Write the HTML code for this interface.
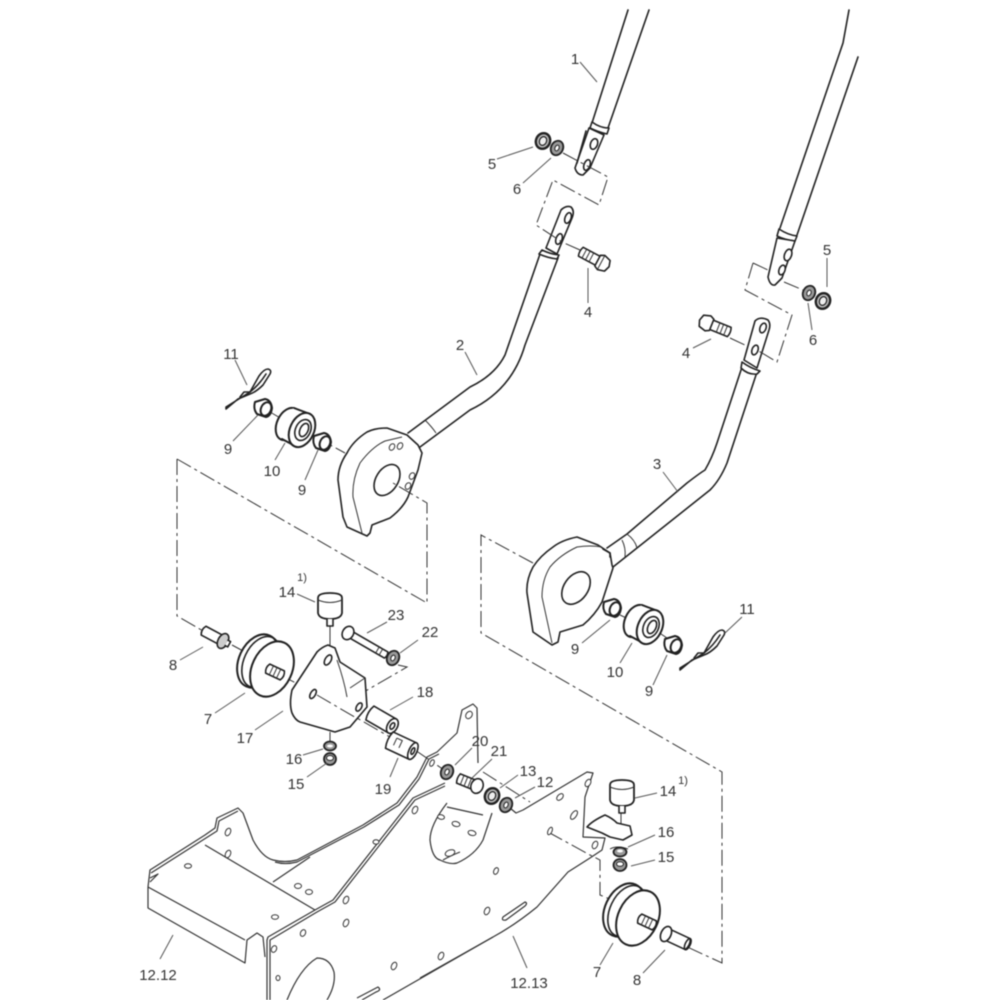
<!DOCTYPE html>
<html><head><meta charset="utf-8"><style>
html,body{margin:0;padding:0;background:#fff;width:1000px;height:1000px;overflow:hidden}
svg{display:block;filter:blur(.45px)}
text{font-family:"Liberation Sans",sans-serif;font-size:15px;fill:#333;text-anchor:middle}
.o{fill:#fff;stroke:#222;stroke-width:1.6;stroke-linejoin:round;stroke-linecap:round}
.n{fill:none;stroke:#222;stroke-width:1.6;stroke-linejoin:round;stroke-linecap:round}
.t{fill:none;stroke:#333;stroke-width:1}
.f{fill:none;stroke:#333;stroke-width:1.2;stroke-linejoin:round}
.h{fill:#fff;stroke:#333;stroke-width:1}
.l{fill:none;stroke:#555;stroke-width:1}
.d{fill:none;stroke:#333;stroke-width:1;stroke-dasharray:16 4 3 4}
.k{fill:#999;stroke:#222;stroke-width:1.8}
</style></head><body>
<svg width="1000" height="1000" viewBox="0 0 1000 1000">
<defs>
<g id="washer"><ellipse rx="6" ry="7.5" transform="rotate(25)" class="k"/><ellipse rx="2" ry="3" transform="rotate(25)" fill="#fff" stroke="#222"/></g>
<g id="nut"><ellipse rx="7" ry="8" transform="rotate(25)" fill="#bbb" stroke="#222" stroke-width="2.4"/><ellipse rx="3.5" ry="4.5" transform="rotate(25)" fill="#eee" stroke="#222" stroke-width="1.2"/></g>
<g id="bush"><path class="o" style="stroke-width:2" d="M-8,-6 L2,-9 Q8,-8 9,0 Q8,8 3,9 L-6,6 Q-10,1 -8,-6Z"/><ellipse cx="3" cy="1" rx="5" ry="7" transform="rotate(25 3 1)" class="o" style="stroke-width:2"/></g>
<g id="roller">
<ellipse cx="-12" cy="-6" rx="11" ry="17" transform="rotate(25 -12 -6)" class="o" style="stroke-width:2"/>
<path d="M-7,-22 L8,-15 L-4,17 L-18,10Z" fill="#fff"/>
<path class="n" style="stroke-width:2" d="M-6,-22 L10,-16 M-18,9 L-3,17"/>
<ellipse cx="2" cy="0" rx="12" ry="18" transform="rotate(25 2 0)" class="o" style="stroke-width:2"/>
<ellipse cx="3" cy="0" rx="7.5" ry="11" transform="rotate(25 3 0)" class="o"/>
<ellipse cx="4" cy="0" rx="4" ry="7" transform="rotate(25 4 0)" class="o"/>
</g>
<g id="pulley"><ellipse cx="-14" cy="-8" rx="19" ry="28" transform="rotate(25 -14 -8)" class="o" style="stroke-width:2"/><ellipse cx="-11" cy="-7" rx="17" ry="27" transform="rotate(25 -11 -7)" class="n"/><ellipse cx="0" cy="0" rx="20" ry="29" transform="rotate(25)" class="o" style="stroke-width:2"/></g>
<g id="cap"><path class="o" style="stroke-width:1.8" d="M-12,-8 Q-12,-13 0,-13 Q12,-13 12,-8 L12,7 Q11,13 0,13 Q-11,13 -12,7Z"/><path class="t" d="M-12,-6 Q0,-1 12,-6"/><path class="o" d="M-3,13 L-3,20 L3,20 L3,13"/></g>
<g id="clip"><path class="n" d="M0,0 L24,-15 L33,-31 Q38,-38 42,-38 Q46,-37 44,-33 L37,-22 Q30,-15 24,-13 L12,-8 L0,2Z"/><path class="n" d="M24,-15 Q33,-22 40,-33 M14,-10 L18,-15 L24,-15"/></g>
</defs>

<!-- long tubes -->
<path class="n" d="M628,10 L592,123 M649,10 L608,128"/>
<path class="o" d="M592,122 Q600,128 609,128 L607,134 Q598,132 590,128Z"/>
<path class="o" d="M589,128 L575,168 Q577,175 583,175 L590,168 L604,135 Z"/>
<path class="n" d="M586,131 L577,163"/>
<ellipse cx="594" cy="144" rx="3.5" ry="5.5" transform="rotate(20 594 144)" class="o"/>
<ellipse cx="587" cy="165" rx="3" ry="5.5" transform="rotate(20 587 165)" class="o"/>

<path class="n" d="M849,10 L843,43 L780,228 M858,57 L797,235"/>
<path class="o" d="M779,229 Q788,235 797,236 L795,241 Q785,240 777,236Z"/>
<path class="o" d="M777,238 L768,277 Q770,286 775,285 L782,278 L795,241Z"/>
<ellipse cx="788" cy="255" rx="3.5" ry="6" transform="rotate(20 788 255)" class="o"/>
<ellipse cx="782" cy="270" rx="3" ry="5" transform="rotate(20 782 270)" class="o"/>

<!-- tube 2 -->
<path class="n" d="M540,254 L505,355 Q495,375 470,387 L408,433 M420,447 L470,410 Q512,390 525,345 L558,258"/>
<path class="t" d="M425,420 Q432,427 436,433"/>
<path class="o" d="M546,248 L561,210 Q566,205 571,207 Q575,211 572,218 L557,254Z"/>
<ellipse cx="568" cy="218" rx="3" ry="5.5" transform="rotate(20 568 218)" class="o"/>
<ellipse cx="559" cy="239" rx="3" ry="5.5" transform="rotate(20 559 239)" class="o"/>
<path class="o" d="M542,250 Q550,254 559,255 L557,259 Q548,258 539,254Z"/>
<!-- cam 2 -->
<path class="o" d="M407,435 L387,428 Q375,428 367,432 Q353,441 347,453 Q338,466 338,480 L343,517 L347,527 L367,536 L370,533 L372,525 L390,518 Q403,508 408,497 L418,470 L422,453 L418,445Z"/>
<path class="t" d="M402,437 L385,441 Q372,447 360,463 Q352,480 353,497 L362,533"/>
<ellipse cx="387" cy="480" rx="11" ry="17" transform="rotate(32 387 480)" class="o"/>
<ellipse cx="392" cy="447" rx="2.5" ry="3.5" transform="rotate(30 392 447)" class="h"/>
<ellipse cx="400" cy="446" rx="2.5" ry="3.5" transform="rotate(30 400 446)" class="h"/>
<ellipse cx="412" cy="476" rx="2.5" ry="3.5" transform="rotate(30 412 476)" class="h"/>
<ellipse cx="408" cy="486" rx="2.5" ry="3.5" transform="rotate(30 408 486)" class="h"/>

<!-- tube 3 -->
<path class="n" d="M607,548 L627,534 L687,483 Q700,473 705,470 Q712,458 717,443 L742,367 M613,567 L637,548 L710,490 Q720,480 727,463 L757,372"/>
<path class="t" d="M622,540 Q626,548 625,557 M627,534 Q635,540 637,548"/>
<path class="o" d="M744,360 L755,321 Q760,316 768,320 Q771,324 769,330 L757,368Z"/>
<path class="o" d="M742,362 Q750,368 760,371 L757,374 Q748,375 741,368Z"/>
<ellipse cx="763" cy="328" rx="3" ry="5" transform="rotate(20 763 328)" class="o"/>
<ellipse cx="755" cy="350" rx="3" ry="5" transform="rotate(20 755 350)" class="o"/>
<!-- cam 3 -->
<path class="o" d="M610,553 L598,545 L577,537 Q562,540 553,547 Q540,556 533,567 Q526,580 527,593 L533,632 L552,645 L558,642 L560,632 L583,625 Q595,615 602,602 L613,568 L612,565Z"/>
<path class="t" d="M602,547 Q590,545 577,547 Q560,555 550,567 Q542,580 542,597 L552,643"/>
<path class="n" d="M603,549 L610,553 L610,557"/>
<ellipse cx="576" cy="588" rx="12" ry="18" transform="rotate(35 576 588)" class="o"/>

<!-- dash lines upper -->
<path class="d" d="M563,153 L608,177 L599,205 L553,180 L536,225 L562,242 L580,250"/>
<path class="d" d="M784,282 L803,290"/>
<path class="d" d="M753,263 L768,270 M753,263 L745,290 L792,315 L777,362 L757,350 M730,338 L745,345"/>
<path class="d" d="M177,459 L427,603 L427,503 L393,483"/>
<path class="d" d="M177,459 L177,616 L205,632"/>
<path class="d" d="M533,563 L481,535 L481,633 L722,772 L722,963 L683,945"/>
<path class="d" d="M270,412 L287,422 M312,435 L345,453"/>
<path class="d" d="M620,615 L635,622 M655,630 L670,640"/>
<path class="d" d="M232,645 L245,652 M280,675 L296,683"/>
<path class="d" d="M317,695 L390,737 M398,665 L407,667 L350,700"/>
<path class="d" d="M415,750 L447,772"/>
<path class="d" d="M483,772 L530,802"/>
<path class="d" d="M548,832 L590,855 L600,860 L600,895 L612,900"/>
<path class="t" d="M330,622 L330,645 M330,732 L330,742 M621,812 L621,832"/>

<!-- frame 12.12 / 12.13 -->
<path class="f" d="M148,887 L150,870 L205,835 L215,828 L217,818 L238,808 L243,813 L253,840 Q262,857 273,860 Q285,863 297,860 L363,825 L397,803 L417,777 L427,757 L437,752 L457,733 L462,710 L473,704 L477,708 L478,763"/>
<path class="f" d="M151,873 L206,838 L217,831 L219,821 L238,811 M275,862 Q285,865 297,862 L364,827 L399,805 L419,779 L429,759 L439,754"/>
<path class="f" d="M148,887 L148,908 L245,963 L247,940 L257,933 L263,937 L265,957 M267,1000 L267,940 L268,937 L315,910 L333,900 L413,798 L445,783 M270,1000 L270,940 L317,912 L335,902 L415,800 L445,786"/>
<path class="f" d="M148,887 L245,940 M205,845 L315,910 M273,882 L310,857 M150,878 L158,874 L150,882"/>
<path class="f" d="M420,978 L493,937 Q515,925 537,907 L568,872 L590,858 L602,850 L605,838 L583,837 L585,797 L593,773 L587,772 L523,810 L516,813 L510,808"/>
<path class="f" d="M383,1000 L493,937"/>
<path class="f" d="M447,803 Q430,825 430,840 Q432,858 440,860 Q450,865 457,863 Q475,855 483,840 L492,813 M447,807 L483,815 M443,860 Q450,856 460,852"/>
<path class="f" d="M287,1000 Q300,968 317,958 Q330,958 334,972 Q336,985 327,1000"/>
<path class="f" d="M357,998 L378,987 Q382,990 376,992 L362,1000"/>
<path class="f" d="M503,917 L525,902 Q528,903 525,906 L506,920 Q501,921 503,917Z"/>
<path class="o" d="M587,827 Q592,821 605,815 Q612,818 617,823 L630,826 L632,835 L623,840 L610,837 L602,833Z"/>
<g class="h">
<ellipse cx="228" cy="832" rx="2.5" ry="4" transform="rotate(25 228 832)"/><ellipse cx="228" cy="854" rx="2.5" ry="4" transform="rotate(25 228 854)"/><ellipse cx="188" cy="866" rx="3.5" ry="2.2"/><ellipse cx="298" cy="886" rx="3.5" ry="2.5"/><ellipse cx="309" cy="892" rx="3.5" ry="2.5"/><ellipse cx="275" cy="917" rx="3.5" ry="2.3"/><ellipse cx="346" cy="900" rx="2.5" ry="4" transform="rotate(25 346 900)"/><ellipse cx="346" cy="923" rx="2.5" ry="4" transform="rotate(25 346 923)"/><ellipse cx="303" cy="933" rx="2.5" ry="3.5" transform="rotate(25 303 933)"/><ellipse cx="274" cy="949" rx="2.5" ry="3.5" transform="rotate(25 274 949)"/><ellipse cx="278" cy="978" rx="2" ry="2.5"/><ellipse cx="394" cy="966" rx="2.5" ry="4" transform="rotate(25 394 966)"/><ellipse cx="441" cy="956" rx="2.5" ry="4" transform="rotate(25 441 956)"/><ellipse cx="415" cy="810" rx="2.5" ry="4" transform="rotate(25 415 810)"/><ellipse cx="376" cy="842" rx="3" ry="2.2"/><ellipse cx="496" cy="871" rx="2.2" ry="3.5" transform="rotate(25 496 871)"/><ellipse cx="487" cy="911" rx="2.5" ry="4" transform="rotate(25 487 911)"/><ellipse cx="550" cy="831" rx="2" ry="4" transform="rotate(25 550 831)"/><ellipse cx="574" cy="815" rx="2.5" ry="5" transform="rotate(35 574 815)"/><ellipse cx="560" cy="797" rx="2.5" ry="4" transform="rotate(45 560 797)"/><ellipse cx="588" cy="783" rx="2.5" ry="4" transform="rotate(30 588 783)"/><ellipse cx="595" cy="845" rx="2.5" ry="4" transform="rotate(25 595 845)"/><ellipse cx="469" cy="715" rx="3" ry="4" transform="rotate(35 469 715)"/><ellipse cx="441" cy="817" rx="3.5" ry="2.3" transform="rotate(10 441 817)"/><ellipse cx="456" cy="824" rx="4" ry="2.5" transform="rotate(15 456 824)"/><ellipse cx="472" cy="833" rx="4" ry="2.5" transform="rotate(15 472 833)"/><ellipse cx="450" cy="853" rx="5" ry="3" transform="rotate(-20 450 853)"/><ellipse cx="432" cy="763" rx="2" ry="3.5" transform="rotate(25 432 763)"/>
</g>

<!-- small hardware upper -->
<use href="#nut" x="543" y="141"/><use href="#washer" x="557" y="148"/>
<use href="#washer" x="809" y="293"/><use href="#nut" x="823" y="301"/>
<g transform="translate(602,263) rotate(28)"><path class="o" d="M-24,-5 L-4,-5 L-4,5 L-24,5 Q-26,0 -24,-5Z"/><path class="t" d="M-20,-5 L-20,5 M-16,-5 L-16,5 M-12,-5 L-12,5"/><path class="o" d="M-5,-6 L-1,-8 L6,-6 L8,0 L6,6 L-1,8 L-5,6Z"/><path class="t" d="M-1,-8 L-1,8"/></g>
<g transform="translate(707,323) rotate(22)"><path class="o" d="M4,-5 L24,-5 Q26,0 24,5 L4,5Z"/><path class="t" d="M12,-5 L12,5 M16,-5 L16,5 M20,-5 L20,5"/><path class="o" d="M5,-6 L1,-8 L-6,-6 L-8,0 L-6,6 L1,8 L5,6Z"/></g>

<!-- rollers left & right -->
<use href="#bush" x="263" y="408"/><use href="#roller" x="300" y="430"/><use href="#bush" x="322" y="442"/>
<use href="#bush" x="612" y="608"/><use href="#roller" x="648" y="627"/><use href="#bush" x="673" y="645"/>
<use href="#clip" x="226" y="407"/><use href="#clip" x="680" y="668"/>

<!-- bracket group left -->
<use href="#cap" x="330" y="606"/>
<use href="#cap" x="622" y="793"/>
<g transform="translate(223,641) rotate(28)"><path class="o" d="M-22,-5 L-2,-5 L-2,5 L-22,5 Q-25,0 -22,-5Z"/><ellipse rx="5" ry="8" class="o" style="fill:#ccc"/><path class="o" d="M4,-3 L7,-3 L7,3 L4,3"/></g>
<use href="#pulley" x="272" y="669"/>
<g transform="translate(275,672) rotate(25)"><path class="o" d="M-8,-5 L8,-5 Q11,0 8,5 L-8,5 Q-11,0 -8,-5Z"/><path class="t" d="M-4,-5 L-4,5 M0,-5 L0,5 M4,-5 L4,5"/></g>
<g transform="translate(348,633) rotate(30)"><path class="o" d="M4,-3.5 L44,-3.5 Q46,0 44,3.5 L4,3.5Z"/><path class="t" d="M34,-3.5 L34,3.5 M38,-3.5 L38,3.5"/><ellipse rx="5.5" ry="7" class="o"/></g>
<use href="#washer" x="393" y="658"/>
<path class="o" d="M328,645 Q322,647 317,652 L292,690 Q289,704 292,713 Q295,720 300,722 L335,732 L350,727 L367,707 L365,678 L340,662 L335,648Z"/>
<path class="t" d="M337,660 Q344,680 347,697 M350,688 L365,678"/>
<ellipse cx="328" cy="660" rx="3" ry="5.5" transform="rotate(30 328 660)" class="o"/>
<ellipse cx="313" cy="694" rx="2.5" ry="5" transform="rotate(30 313 694)" class="o"/>
<ellipse cx="359" cy="707" rx="2.5" ry="4.5" transform="rotate(30 359 707)" class="o"/>
<path class="d" d="M317,695 L358,719"/>
<g transform="translate(382,720) rotate(30)"><path class="o" d="M-14,-8 L12,-8 L12,8 L-14,8 Q-17,0 -14,-8Z"/><ellipse cx="12" rx="5" ry="8" class="o"/><ellipse cx="12" rx="2" ry="3.5" class="n"/></g>
<g transform="translate(402,746) rotate(25)"><path class="o" d="M-14,-9 L12,-9 L12,9 L-14,9 Q-17,0 -14,-9Z"/><ellipse cx="12" rx="4" ry="9" class="o"/><path class="t" d="M-8,-5 L-2,-5 L-2,3 M-8,-5 L-8,3"/><ellipse cx="12" rx="1.5" ry="3.5" class="n"/></g>
<ellipse cx="330" cy="746" rx="6" ry="4.5" class="k"/><ellipse cx="330" cy="746" rx="3" ry="1.5" fill="#fff"/>
<ellipse cx="330" cy="759" rx="6" ry="6" class="k"/><ellipse cx="330" cy="758" rx="3.5" ry="2.5" fill="#fff" stroke="#222"/>
<use href="#washer" x="447" y="772"/>
<g transform="translate(477,786) rotate(22)"><path class="o" d="M-20,-5 L-2,-5 L-2,5 L-20,5 Q-22,0 -20,-5Z"/><path class="t" d="M-16,-5 L-16,5 M-12,-5 L-12,5 M-8,-5 L-8,5"/><ellipse rx="6" ry="7.5" class="o"/></g>
<use href="#nut" x="492" y="796"/>
<use href="#washer" x="506" y="805"/>

<!-- bracket group right -->
<path class="t" d="M610,849 q7,-4 18,0"/>
<ellipse cx="620" cy="852" rx="6.5" ry="4.5" class="k"/><ellipse cx="620" cy="851" rx="3" ry="1.5" fill="#fff"/>
<ellipse cx="620" cy="865" rx="6.5" ry="6" class="k"/><ellipse cx="620" cy="864" rx="3.5" ry="2.3" fill="#fff" stroke="#222"/>
<use href="#pulley" x="638" y="918"/>
<g transform="translate(647,922) rotate(25)"><path class="o" d="M-8,-5 L8,-5 Q11,0 8,5 L-8,5 Q-11,0 -8,-5Z"/><path class="t" d="M-4,-5 L-4,5 M0,-5 L0,5 M4,-5 L4,5"/></g>
<g transform="translate(666,934) rotate(25)"><path class="o" d="M0,-6 L24,-6 Q27,0 24,6 L0,6Z"/><ellipse rx="5" ry="8" class="o"/><ellipse cx="24" rx="2.5" ry="6" class="n"/></g>

<!-- leaders -->
<path class="l" d="M580,62 L597,82 M497,159 L533,147 M523,183 L551,158 M588,303 L588,268 M465,352 L477,375 M235,360 L247,385 M233,441 L258,415 M275,460 L285,443 M305,480 L318,450 M663,472 L678,492 M827,258 L827,287 M812,330 L808,303 M693,348 L711,339 M297,594 L315,602 M367,633 L387,622 M400,653 L418,640 M180,660 L203,647 M215,713 L245,693 M255,730 L283,711 M390,710 L413,697 M303,755 L323,749 M307,777 L327,763 M390,777 L398,758 M455,765 L472,748 M472,778 L492,759 M500,788 L518,775 M515,798 L535,787 M635,798 L657,793 M628,847 L655,835 M631,866 L655,860 M600,965 L613,943 M643,973 L665,950 M527,968 L513,936 M160,959 L173,935 M582,643 L610,620 M620,663 L632,643 M653,685 L667,655 M725,633 L742,617"/>

<!-- labels -->
<g>
<text x="575" y="64">1</text><text x="492" y="169">5</text><text x="517" y="194">6</text><text x="588" y="317">4</text>
<text x="460" y="350">2</text><text x="231" y="359">11</text><text x="228" y="454">9</text><text x="272" y="476">10</text><text x="302" y="495">9</text>
<text x="657" y="469">3</text><text x="827" y="255">5</text><text x="813" y="345">6</text><text x="686" y="358">4</text>
<text x="287" y="597">14</text><text x="302" y="581" style="font-size:11px">1)</text><text x="396" y="620">23</text><text x="430" y="637">22</text>
<text x="173" y="670">8</text><text x="208" y="724">7</text><text x="245" y="743">17</text><text x="425" y="697">18</text>
<text x="294" y="764">16</text><text x="296" y="789">15</text><text x="383" y="794">19</text>
<text x="480" y="746">20</text><text x="499" y="756">21</text><text x="528" y="776">13</text><text x="545" y="787">12</text>
<text x="668" y="796">14</text><text x="683" y="784" style="font-size:11px">1)</text><text x="666" y="837">16</text><text x="666" y="862">15</text>
<text x="747" y="614">11</text><text x="575" y="654">9</text><text x="615" y="677">10</text><text x="649" y="696">9</text>
<text x="158" y="980">12.12</text><text x="529" y="988">12.13</text><text x="597" y="977">7</text><text x="637" y="985">8</text>
</g>
</svg>
</body></html>
